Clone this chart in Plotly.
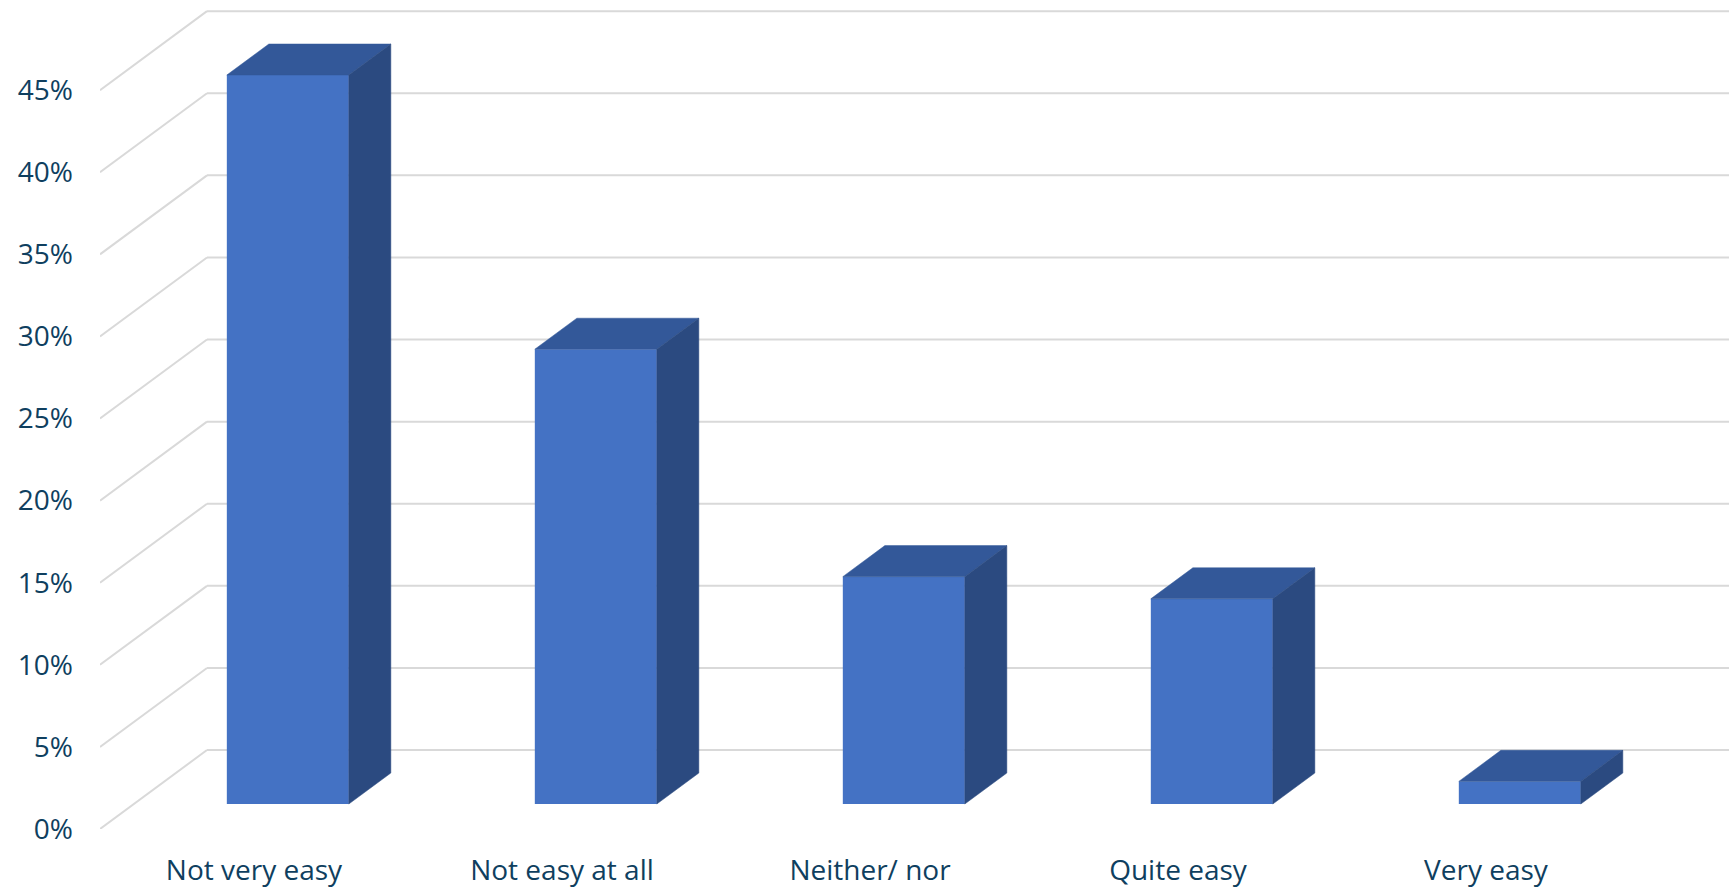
import plotly.graph_objects as go

# Survey responses (share of respondents)
categories = ["Not very easy", "Not easy at all", "Neither/ nor", "Quite easy", "Very easy"]
values = [44.4, 27.7, 13.85, 12.5, 1.38]
tick_values = [0, 5, 10, 15, 20, 25, 30, 35, 40, 45]
tick_labels = ["0%", "5%", "10%", "15%", "20%", "25%", "30%", "35%", "40%", "45%"]

# Oblique projection of the depth axis, in data units
DEPTH_DX = 0.3474      # horizontal shift from front plane to back wall (category units)
DEPTH_DY = 4.81        # vertical shift from front plane to back wall (% units)
BAR_FRONT = 0.316      # depth fraction of the bar front face
BAR_BACK = 0.709       # depth fraction of the bar back face
BAR_WIDTH = 0.396
X_MAX = 5.289
Y_MAX = 50.49

FRONT_COLOR = "#4472C4"
TOP_COLOR = "#335899"
SIDE_COLOR = "#2B4A80"
GRID_COLOR = "#D9D9D9"
TEXT_COLOR = "#0F3F5F"

fig = go.Figure()

# Back wall gridlines and the diagonal side lines
shapes = []
for t in tick_values:
    shapes.append(dict(type="line", xref="x", yref="y", layer="below",
                       x0=0, y0=t, x1=DEPTH_DX, y1=t + DEPTH_DY,
                       line=dict(color=GRID_COLOR, width=2)))
    shapes.append(dict(type="line", xref="x", yref="y", layer="below",
                       x0=DEPTH_DX, y0=t + DEPTH_DY, x1=X_MAX, y1=t + DEPTH_DY,
                       line=dict(color=GRID_COLOR, width=2)))

centers = [i + 0.5 for i in range(len(categories))]
fdx, fdy = BAR_FRONT * DEPTH_DX, BAR_FRONT * DEPTH_DY
ddx, ddy = (BAR_BACK - BAR_FRONT) * DEPTH_DX, (BAR_BACK - BAR_FRONT) * DEPTH_DY

# Front faces of the bars
fig.add_trace(go.Bar(
    x=[c + fdx for c in centers], y=values, base=[fdy] * len(values),
    width=BAR_WIDTH, marker=dict(color=FRONT_COLOR, line=dict(width=0)),
    hoverinfo="skip", showlegend=False,
))

# Top and side faces
for c, v in zip(centers, values):
    xl = c + fdx - BAR_WIDTH / 2
    xr = c + fdx + BAR_WIDTH / 2
    yb = fdy
    yt = fdy + v
    fig.add_trace(go.Scatter(
        x=[xl, xr, xr + ddx, xl + ddx, xl],
        y=[yt, yt, yt + ddy, yt + ddy, yt],
        fill="toself", fillcolor=TOP_COLOR, mode="lines",
        line=dict(color=TOP_COLOR, width=0.5),
        hoverinfo="skip", showlegend=False,
    ))
    fig.add_trace(go.Scatter(
        x=[xr, xr + ddx, xr + ddx, xr, xr],
        y=[yb, yb + ddy, yt + ddy, yt, yb],
        fill="toself", fillcolor=SIDE_COLOR, mode="lines",
        line=dict(color=SIDE_COLOR, width=0.5),
        hoverinfo="skip", showlegend=False,
    ))

fig.update_layout(
    width=1729, height=889,
    margin=dict(l=100, r=0, t=0, b=60),
    paper_bgcolor="white", plot_bgcolor="white",
    font=dict(family="Open Sans", size=28, color=TEXT_COLOR),
    shapes=shapes,
    xaxis=dict(range=[0, X_MAX], tickmode="array", tickvals=centers, ticktext=categories,
               showgrid=False, zeroline=False, showline=False, ticks="",
               ticklabelstandoff=22, fixedrange=True),
    yaxis=dict(range=[0, Y_MAX], tickmode="array", tickvals=tick_values, ticktext=tick_labels,
               showgrid=False, zeroline=False, showline=False, ticks="",
               ticklabelstandoff=26, fixedrange=True),
)

fig.write_html("out.html")
